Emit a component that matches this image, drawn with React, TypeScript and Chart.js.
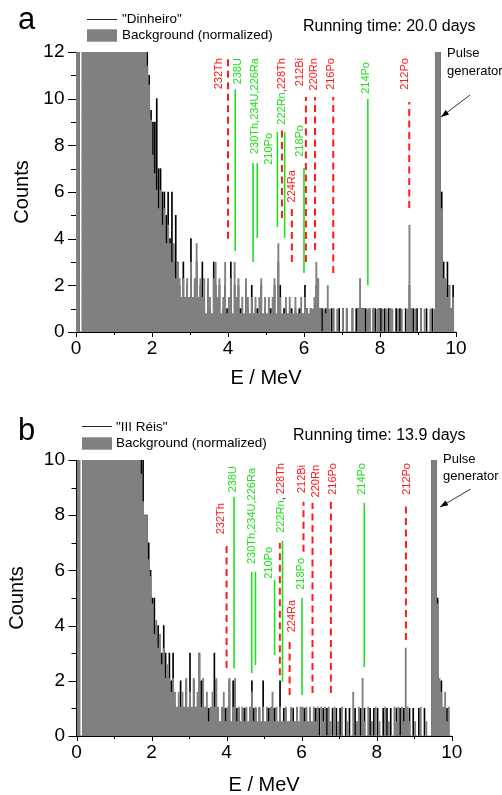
import React, { useEffect, useRef } from "react";
import { Chart, registerables } from "chart.js";

Chart.register(...registerables);

const FONT = '"Liberation Sans", Arial, Helvetica, sans-serif';
const RED = "#ff1a1a";
const GREEN = "#1ee01e";
const BLUE = "#2a40ff";
const GRAY = "#808080";

// Energy axis: 200 histogram bins of 0.05 MeV (bin start energies)
const ENERGY_BIN_WIDTH = 0.05;
const ENERGY_BINS = Array.from({ length: 200 }, (_, i) => Number((i * ENERGY_BIN_WIDTH).toFixed(2)));
const X_TICKS = [0, 2, 4, 6, 8, 10];

// ---------- Panel a: "Dinheiro" (20.0 days) ----------
const BACKGROUND_A = [
  20, 20, 0, 20, 20, 20, 20, 20, 20, 20,
  20, 20, 20, 20, 20, 20, 20, 20, 20, 20,
  20, 20, 20, 20, 20, 20, 20, 20, 20, 20,
  20, 20, 20, 20, 20, 20, 14, 11.4, 10.6, 9.1,
  7.6, 6.8, 6.1, 5.3, 6.1, 4.6, 5.3, 3.8, 4.6, 3.8,
  3.0, 3.8, 2.3, 3.0, 2.3, 1.5, 2.3, 1.5, 2.3, 1.5,
  3.0, 1.5, 2.3, 3.8, 1.5, 2.3, 1.5, 2.3, 0.8, 2.3,
  1.5, 0.8, 2.3, 3.0, 1.5, 2.3, 0.8, 1.5, 3.0, 0.8,
  1.5, 2.3, 0.8, 3.0, 1.5, 2.3, 0.8, 1.5, 0.8, 2.3,
  1.5, 0.8, 1.5, 0.8, 1.5, 0.8, 1.5, 2.3, 0.8, 1.5,
  0.8, 1.5, 0.8, 1.5, 2.3, 0.8, 3.8, 1.5, 0.8, 0.8,
  1.5, 0.8, 1.5, 0.8, 0.8, 1.5, 0.8, 0.8, 1.5, 0.8,
  1.5, 1.0, 0.8, 1.0, 1.0, 1.5, 3.0, 2.3, 1.0, 0,
  1.0, 0.8, 2.0, 1.0, 0, 1.0, 0, 1.0, 0, 0,
  1.0, 0, 1.0, 0, 0, 1.0, 0, 0, 1.0, 2.3,
  1.0, 1.0, 0, 1.0, 1.0, 0, 1.0, 0, 1.0, 1.0,
  0, 1.0, 0, 1.0, 0, 1.0, 1.0, 0, 0, 1.0,
  0, 1.0, 0, 0, 1.0, 4.6, 1.0, 0, 1.0, 0,
  0, 1.0, 0, 1.0, 0, 0, 1.0, 0, 1.0, 20,
  20, 20, 5.3, 2.3, 2.3, 1.5, 2.0, 1.0, 1.5, 0,
];
const SAMPLE_A = [
  20, 20, 0, 20, 20, 20, 20, 20, 20, 20,
  20, 20, 20, 20, 20, 20, 20, 20, 20, 20,
  20, 20, 20, 20, 20, 20, 20, 20, 20, 20,
  20, 20, 20, 20, 20, 20, 20, 12, 11, 9.5,
  9, 9, 10, 7, 7, 6, 6, 5, 6, 4,
  6, 3, 5, 3, 2, 1, 3, 1, 2, 1,
  4, 1, 2, 3, 1, 2, 3, 1, 0, 2,
  1, 0, 3, 2, 1, 2, 0, 1, 2, 1,
  1, 3, 0, 2, 1, 2, 1, 1, 0, 2,
  1, 0, 2, 0, 1, 1, 1, 2, 0, 1,
  0, 1, 1, 1, 2, 0, 3, 2, 0, 1,
  1, 0, 1, 1, 0, 1, 0, 1, 1, 0,
  2, 1, 0, 1, 0, 1, 2, 1, 1, 1,
  0, 1, 1, 0, 1, 1, 0, 0, 1, 0,
  1, 0, 1, 0, 0, 1, 0, 1, 1, 0,
  1, 1, 1, 0, 1, 0, 1, 1, 0, 1,
  1, 0, 1, 0, 1, 1, 0, 0, 1, 0,
  1, 0, 0, 1, 0, 2, 1, 1, 0, 1,
  0, 1, 0, 0, 1, 0, 0, 1, 0, 20,
  20, 20, 6, 3, 2, 3, 2, 1, 2, 0,
];
const ISO_ENERGY_A = [4.0, 4.19, 4.66, 4.77, 5.3, 5.42, 5.49, 5.68, 6.0, 6.05, 6.29, 6.77, 7.68, 8.77];
const ISO_LOW_A = [4.0, 3.47, 3.0, 4.03, 4.5, 4.89, 4.03, 3.0, 2.53, 3.0, 3.51, 2.53, 2.0, 5.31];
const ISO_HIGH_A = [11.8, 10.4, 7.24, 7.24, 8.57, 8.66, 8.57, 5.31, 7.03, 10.07, 10.07, 10.07, 9.99, 9.86];

// ---------- Panel b: "III Réis" (13.9 days) ----------
const BACKGROUND_B = [
  20, 20, 0, 20, 20, 20, 20, 20, 20, 20,
  20, 20, 20, 20, 20, 20, 20, 20, 20, 20,
  20, 20, 20, 20, 20, 20, 20, 20, 20, 20,
  20, 20, 20, 20, 9.5, 8.5, 8.0, 8.0, 6.4, 5.8,
  4.8, 3.7, 4.2, 3.2, 3.7, 2.6, 3.2, 2.1, 2.6, 2.1,
  1.6, 2.1, 1.6, 1.06, 1.6, 1.06, 1.6, 1.06, 2.1, 1.06,
  1.6, 1.06, 2.1, 1.06, 1.6, 3.0, 1.06, 2.1, 1.06, 1.6,
  0.53, 1.06, 1.6, 1.06, 2.1, 1.06, 0.53, 1.06, 1.6, 0.53,
  1.06, 2.1, 0.53, 1.06, 2.1, 0.53, 1.06, 0.53, 1.06, 0.53,
  1.06, 0.53, 1.06, 1.6, 0.53, 1.06, 0.53, 1.06, 0.53, 1.06,
  0.53, 1.06, 0.53, 1.06, 1.6, 0.53, 1.06, 0.53, 1.06, 0.53,
  0.53, 1.06, 0.53, 0.53, 1.06, 0.53, 0.53, 1.06, 0.53, 1.06,
  1.06, 0.53, 1.06, 0.53, 1.06, 0.53, 1.06, 0.53, 1.06, 0,
  1.06, 0.53, 1.06, 0, 1.06, 0.53, 0, 1.06, 0, 0.53,
  0, 1.06, 0, 0, 0.53, 0, 0, 1.6, 0, 0.53,
  1.06, 0, 2.1, 0.53, 0, 1.06, 0, 0.53, 0, 1.06,
  0, 0.53, 0, 0, 1.06, 0, 0.53, 0, 0, 1.06,
  0.53, 1.06, 0, 1.06, 0.53, 3.2, 1.06, 0.53, 0, 0,
  0.53, 0, 0, 1.06, 0, 0, 0.53, 0, 0, 20,
  20, 20, 4.8, 2.1, 1.6, 1.06, 1.6, 0.53, 1.06, 0,
];
const SAMPLE_B = [
  20, 20, 0, 20, 20, 20, 20, 20, 20, 20,
  20, 20, 20, 20, 20, 20, 20, 20, 20, 20,
  20, 20, 20, 20, 20, 20, 20, 20, 20, 20,
  20, 20, 20, 20, 10, 10, 8, 8, 7, 6,
  5, 5, 4, 4, 3, 3, 4, 3, 2, 3,
  2, 3, 1, 1, 1, 2, 1, 1, 2, 1,
  3, 1, 2, 1, 1, 3, 2, 2, 1, 1,
  1, 1, 1, 3, 2, 1, 0, 1, 1, 1,
  1, 2, 0, 2, 2, 1, 1, 0, 1, 1,
  1, 0, 1, 2, 1, 1, 0, 1, 0, 2,
  0, 1, 1, 1, 1, 1, 1, 0, 2, 0,
  1, 1, 0, 0, 1, 1, 0, 1, 0, 1,
  1, 1, 1, 0, 1, 0, 1, 1, 1, 1,
  0, 1, 0, 1, 0, 0, 1, 0, 1, 0,
  1, 0, 0, 1, 0, 1, 0, 0, 1, 0,
  1, 1, 0, 1, 0, 0, 1, 0, 1, 0,
  1, 0, 0, 1, 0, 1, 0, 1, 0, 0,
  1, 0, 1, 0, 1, 1, 0, 1, 0, 1,
  0, 0, 1, 0, 0, 1, 0, 0, 0, 20,
  20, 20, 5, 2, 2, 1, 1, 1, 0, 0,
];
const ISO_ENERGY_B = [4.0, 4.2, 4.67, 4.77, 5.28, 5.42, 5.49, 5.68, 6.01, 6.05, 6.29, 6.78, 7.67, 8.78];
const ISO_LOW_B = [2.46, 2.45, 2.27, 2.57, 2.93, 2.2, 1.97, 1.49, 1.49, 6.68, 1.56, 1.56, 2.5, 3.48];
const ISO_HIGH_B = [7.04, 8.67, 5.95, 5.95, 5.65, 6.99, 7.07, 3.48, 5.0, 8.49, 8.44, 8.55, 8.45, 8.45];

// r = Th-chain (red dashed), g = U-chain (green solid)
const ISO_CHAIN = ["r", "g", "g", "g", "g", "r", "g", "r", "g", "r", "r", "r", "g", "r"];

type Part = [string, string];
type IsoLabel = { parts: Part[]; x: number; top: number };

const LABELS_A: IsoLabel[] = [
  { parts: [["232Th", RED]], x: 3.76, top: 11.74 },
  { parts: [["238U", GREEN]], x: 4.25, top: 11.74 },
  { parts: [["230Th,234U,226Ra", GREEN]], x: 4.7, top: 11.74 },
  { parts: [["210Po", GREEN]], x: 5.09, top: 8.53 },
  { parts: [["222Rn", GREEN], [",", BLUE], ["228Th", RED]], x: 5.42, top: 11.74 },
  { parts: [["224Ra", RED]], x: 5.68, top: 6.94 },
  { parts: [["218Po", GREEN]], x: 5.89, top: 8.87 },
  { parts: [["212Bi", RED]], x: 5.89, top: 11.74 },
  { parts: [["220Rn", RED]], x: 6.25, top: 11.74 },
  { parts: [["216Po", RED]], x: 6.71, top: 11.74 },
  { parts: [["214Po", GREEN]], x: 7.63, top: 11.57 },
  { parts: [["212Po", RED]], x: 8.66, top: 11.74 },
];
const LABELS_B: IsoLabel[] = [
  { parts: [["232Th", RED]], x: 3.85, top: 8.44 },
  { parts: [["238U", GREEN]], x: 4.17, top: 9.78 },
  { parts: [["230Th,234U,226Ra", GREEN]], x: 4.67, top: 9.71 },
  { parts: [["210Po", GREEN]], x: 5.14, top: 6.85 },
  { parts: [["222Rn", GREEN], [", ", "#000"], ["228Th", RED]], x: 5.45, top: 9.89 },
  { parts: [["224Ra", RED]], x: 5.74, top: 4.93 },
  { parts: [["218Po", GREEN]], x: 5.98, top: 6.45 },
  { parts: [["212Bi", RED]], x: 6.0, top: 9.82 },
  { parts: [["220Rn", RED]], x: 6.38, top: 9.82 },
  { parts: [["216Po", RED]], x: 6.84, top: 9.89 },
  { parts: [["214Po", GREEN]], x: 7.62, top: 9.89 },
  { parts: [["212Po", RED]], x: 8.81, top: 9.89 },
];

type Layout = {
  top: number; height: number; padTop: number; padRight: number;
  yAxisW: number; xAxisH: number; yTitlePad: number; xTitlePad: number;
  letterX: number; letterY: number; legX: number; legLineY: number; legText1Y: number;
  legBoxY: number; legText2Y: number; legTextX: number;
  runX: number; runY: number; pulseX: number; pulseY: number; genY: number;
  arrow: [number, number, number, number];
};

const LAYOUT_A: Layout = {
  top: 0, height: 395, padTop: 52, padRight: 46, yAxisW: 76, xAxisH: 63, yTitlePad: 12.5, xTitlePad: 6.3,
  letterX: 18, letterY: 28.5, legX: 87, legLineY: 19, legText1Y: 19.5, legBoxY: 29.3, legText2Y: 35.5, legTextX: 122,
  runX: 303, runY: 31, pulseX: 447, pulseY: 56.7, genY: 75, arrow: [470, 95, 441, 117],
};
const LAYOUT_B: Layout = {
  top: 395, height: 400, padTop: 65, padRight: 50.3, yAxisW: 76.5, xAxisH: 59, yTitlePad: 7, xTitlePad: 0,
  letterX: 18, letterY: 45, legX: 82, legLineY: 31, legText1Y: 32, legBoxY: 42.3, legText2Y: 48, legTextX: 116,
  runX: 293, runY: 45, pulseX: 443, pulseY: 68, genY: 85, arrow: [470.7, 94, 440, 112],
};

type PanelSpec = {
  letter: string; sample: string; runTime: string; yMax: number;
  background: number[]; sample_counts: number[];
  isoE: number[]; isoLo: number[]; isoHi: number[]; labels: IsoLabel[]; layout: Layout;
};

const PANELS: PanelSpec[] = [
  { letter: "a", sample: '"Dinheiro"', runTime: "Running time: 20.0 days", yMax: 12,
    background: BACKGROUND_A, sample_counts: SAMPLE_A, isoE: ISO_ENERGY_A, isoLo: ISO_LOW_A, isoHi: ISO_HIGH_A,
    labels: LABELS_A, layout: LAYOUT_A },
  { letter: "b", sample: '"III Réis"', runTime: "Running time: 13.9 days", yMax: 10,
    background: BACKGROUND_B, sample_counts: SAMPLE_B, isoE: ISO_ENERGY_B, isoLo: ISO_LOW_B, isoHi: ISO_HIGH_B,
    labels: LABELS_B, layout: LAYOUT_B },
];

function makeDecor(p: PanelSpec) {
  const L = p.layout;
  return {
    id: "decor_" + p.letter,
    afterDraw(chart: any) {
      const { ctx, chartArea: ca } = chart;
      const xs = chart.scales.x;
      const ys = chart.scales.y;
      ctx.save();
      ctx.setLineDash([]);
      ctx.strokeStyle = "#000";
      ctx.lineWidth = 1;
      // minor/major tick marks
      for (let v = 0; v <= p.yMax; v += 1) {
        const py = Math.round(ys.getPixelForValue(v)) + 0.5;
        const len = v % 2 === 0 ? 8 : 5;
        ctx.beginPath();
        ctx.moveTo(ca.left - len, py);
        ctx.lineTo(ca.left, py);
        ctx.stroke();
      }
      for (let v = 0; v <= 10; v += 1) {
        const px = Math.round(xs.getPixelForValue(v)) + 0.5;
        ctx.beginPath();
        ctx.moveTo(px, ca.bottom);
        ctx.lineTo(px, ca.bottom + (v % 2 === 0 ? 5 : 3));
        ctx.stroke();
      }
      // isotope labels (rotated)
      ctx.font = `11px ${FONT}`;
      ctx.textBaseline = "middle";
      ctx.textAlign = "left";
      for (const lab of p.labels) {
        const px = xs.getPixelForValue(lab.x);
        const py = ys.getPixelForValue(lab.top);
        const total = lab.parts.reduce((s, [t]) => s + ctx.measureText(t).width, 0);
        ctx.save();
        ctx.translate(px, py);
        ctx.rotate(-Math.PI / 2);
        let cx = -total;
        for (const [t, c] of lab.parts) {
          ctx.fillStyle = c;
          ctx.fillText(t, cx, 0);
          cx += ctx.measureText(t).width;
        }
        ctx.restore();
      }
      // legend
      ctx.strokeStyle = "#222";
      ctx.lineWidth = 1;
      ctx.beginPath();
      ctx.moveTo(L.legX, L.legLineY + 0.5);
      ctx.lineTo(L.legX + 30, L.legLineY + 0.5);
      ctx.stroke();
      ctx.fillStyle = GRAY;
      ctx.fillRect(L.legX, L.legBoxY, 30, 12.4);
      ctx.fillStyle = "#000";
      ctx.font = `13.5px ${FONT}`;
      ctx.textBaseline = "middle";
      ctx.fillText(p.sample, L.legTextX, L.legText1Y);
      ctx.fillText("Background (normalized)", L.legTextX, L.legText2Y);
      // panel letter
      ctx.textBaseline = "alphabetic";
      ctx.font = `31px ${FONT}`;
      ctx.fillText(p.letter, L.letterX, L.letterY);
      // running time
      ctx.font = `16px ${FONT}`;
      ctx.fillText(p.runTime, L.runX, L.runY);
      // pulse generator note
      ctx.font = `13px ${FONT}`;
      ctx.fillText("Pulse", L.pulseX, L.pulseY);
      ctx.fillText("generator", L.pulseX, L.genY);
      const [x1, y1, x2, y2] = L.arrow;
      ctx.strokeStyle = "#000";
      ctx.lineWidth = 0.8;
      ctx.beginPath();
      ctx.moveTo(x1, y1);
      ctx.lineTo(x2, y2);
      ctx.stroke();
      const ang = Math.atan2(y2 - y1, x2 - x1);
      ctx.beginPath();
      ctx.moveTo(x2, y2);
      ctx.lineTo(x2 - 8 * Math.cos(ang) + 2.8 * Math.sin(ang), y2 - 8 * Math.sin(ang) - 2.8 * Math.cos(ang));
      ctx.lineTo(x2 - 8 * Math.cos(ang) - 2.8 * Math.sin(ang), y2 - 8 * Math.sin(ang) + 2.8 * Math.cos(ang));
      ctx.closePath();
      ctx.fillStyle = "#000";
      ctx.fill();
      ctx.restore();
    },
  };
}

function buildConfig(p: PanelSpec): any {
  const L = p.layout;
  const bgPts = ENERGY_BINS.map((e, i) => ({ x: e, y: p.background[i] }));
  bgPts.push({ x: 10, y: p.background[p.background.length - 1] });
  const samplePts = ENERGY_BINS.map((e, i) => ({ x: e + ENERGY_BIN_WIDTH / 2, y: p.sample_counts[i] }));
  const isoSets = p.isoE.map((e, i) => {
    const red = ISO_CHAIN[i] === "r";
    return {
      type: "line",
      data: [{ x: e, y: p.isoLo[i] }, { x: e, y: p.isoHi[i] }],
      borderColor: red ? RED : GREEN,
      borderWidth: red ? 2 : 1.6,
      borderDash: red ? [7, 4.5] : [],
      pointRadius: 0,
      fill: false,
      order: 1,
    };
  });
  const tickFont = { size: 19, family: FONT, lineHeight: 1 };
  const titleFont = { size: 20, family: FONT, lineHeight: 1 };
  return {
    type: "line",
    data: {
      datasets: [
        {
          type: "bar", label: p.sample, data: samplePts, backgroundColor: "#000",
          barThickness: 1, borderWidth: 0, order: 3, grouped: false,
        },
        {
          type: "line", label: "Background (normalized)", data: bgPts, stepped: true, fill: "origin",
          backgroundColor: GRAY, borderColor: "rgba(0,0,0,0)", borderWidth: 0, pointRadius: 0, order: 2,
        },
        ...isoSets,
      ],
    },
    options: {
      responsive: false,
      animation: false,
      events: [],
      layout: { padding: { top: L.padTop, right: L.padRight, left: 0, bottom: 0 } },
      plugins: { legend: { display: false }, tooltip: { enabled: false }, title: { display: false } },
      scales: {
        x: {
          type: "linear", min: 0, max: 10, offset: false,
          afterBuildTicks: (s: any) => { s.ticks = X_TICKS.map((v) => ({ value: v })); },
          ticks: { font: tickFont, color: "#000", padding: 7.5, maxRotation: 0, autoSkip: false },
          grid: { display: true, drawOnChartArea: false, drawTicks: false },
          border: { display: true, color: "#000", width: 1 },
          title: { display: true, text: "E / MeV", color: "#000", font: titleFont, padding: { top: 0, bottom: L.xTitlePad } },
          afterFit: (s: any) => { s.height = L.xAxisH; },
        },
        y: {
          type: "linear", min: 0, max: p.yMax,
          ticks: { stepSize: 2, font: tickFont, color: "#000", padding: 11.5 },
          grid: { display: true, drawOnChartArea: false, drawTicks: false },
          border: { display: true, color: "#000", width: 1 },
          title: { display: true, text: "Counts", color: "#000", font: titleFont, padding: { top: L.yTitlePad, bottom: 0 } },
          afterFit: (s: any) => { s.width = L.yAxisW; },
        },
      },
    },
    plugins: [makeDecor(p)],
  };
}

function SpectrumPanel({ panel }: { panel: PanelSpec }) {
  const ref = useRef<HTMLCanvasElement>(null);
  useEffect(() => {
    if (!ref.current) return;
    const chart = new Chart(ref.current, buildConfig(panel));
    return () => chart.destroy();
  }, [panel]);
  const L = panel.layout;
  return (
    <canvas
      ref={ref}
      width={502}
      height={L.height}
      style={{ position: "absolute", left: 0, top: L.top, width: 502, height: L.height, display: "block" }}
    />
  );
}

export default function App() {
  return (
    <div style={{ position: "absolute", left: 0, top: 0, width: 502, height: 795, background: "#fff", overflow: "hidden" }}>
      {PANELS.map((p) => (
        <SpectrumPanel key={p.letter} panel={p} />
      ))}
    </div>
  );
}
